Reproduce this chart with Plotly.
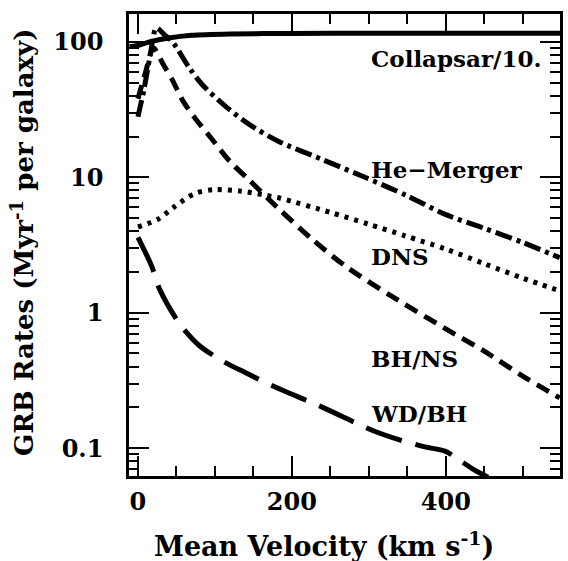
import plotly.graph_objects as go
import math

# ---- data ----
collapsar_v = [-11, 0, 15, 40, 70, 120, 200, 300, 400, 550]
collapsar_r = [92, 94, 100, 107, 112, 114.5, 115.5, 116, 116, 116]

he_v = [0, 8, 16, 24, 35, 45, 67, 84, 115, 145, 183, 240, 295, 350, 400, 450, 500, 548]
he_r = [28, 45, 80, 127, 112, 100, 64, 48, 33, 24.5, 18.4, 13.5, 10, 7.3, 5.3, 4.2, 3.3, 2.55]

dns_v = [0, 26, 48, 74, 99, 134, 164, 185, 250, 300, 347, 400, 450, 500, 548]
dns_r = [4.3, 4.9, 6.1, 7.6, 8.1, 7.9, 7.4, 7.0, 5.5, 4.5, 3.7, 2.95, 2.3, 1.8, 1.45]

bhns_v = [0, 10, 20, 33, 45, 58, 75, 95, 120, 145, 181, 226, 270, 329, 400, 450, 500, 548]
bhns_r = [38, 60, 90, 68, 52, 37, 27, 19.5, 13, 9.5, 6.0, 3.5, 2.2, 1.33, 0.76, 0.52, 0.34, 0.235]

wdbh_v = [0, 18, 28, 54, 80, 110, 140, 174, 240, 305, 340, 373, 399, 420, 437, 455]
wdbh_r = [3.6, 2.2, 1.5, 0.83, 0.57, 0.44, 0.36, 0.29, 0.2, 0.135, 0.115, 0.102, 0.095, 0.08, 0.069, 0.061]

labels = ["Collapsar/10.", "He\u2212Merger", "DNS", "BH/NS", "WD/BH"]
label_x = [300, 300, 300, 300, 300]
label_y = [76, 11.5, 2.62, 0.46, 0.18]

x_ticks = [0, 200, 400]

FONT = "DejaVu Serif"

fig = go.Figure()

series = [
    (collapsar_v, collapsar_r, "solid"),
    (he_v, he_r, "17px,5px,4px,5px"),
    (dns_v, dns_r, "4px,6px"),
    (bhns_v, bhns_r, "14px,8px"),
    (wdbh_v, wdbh_r, "38px,14px"),
]
for v, r, dash in series:
    fig.add_trace(go.Scatter(
        x=v, y=r, mode="lines",
        line=dict(color="black", width=5, dash=dash, shape="spline", smoothing=0.8),
        showlegend=False, hoverinfo="skip"))

for t, lx, ly in zip(labels, label_x, label_y):
    fig.add_annotation(x=lx, y=math.log10(ly), text="<b>%s</b>" % t, showarrow=False,
                       xanchor="left", yanchor="middle",
                       font=dict(family=FONT, size=23, color="black"))

fig.add_annotation(xref="paper", yref="paper", x=-0.2465, y=0.506,
                   text="<b>GRB Rates (Myr<sup>-1</sup> per galaxy)</b>", textangle=-90,
                   showarrow=False, xanchor="center", yanchor="middle",
                   font=dict(family=FONT, size=26, color="black"))
fig.add_annotation(xref="paper", yref="paper", x=0.452, y=-0.149,
                   text="<b>Mean Velocity (km s<sup>-1</sup>)</b>",
                   showarrow=False, xanchor="center", yanchor="middle",
                   font=dict(family=FONT, size=27, color="black"))

tickfont = dict(family=FONT, size=24, color="black", weight="bold")

fig.update_xaxes(range=[-11.6, 548.4], showline=True, linewidth=2.5, linecolor="black",
                 mirror="ticks", ticks="inside", ticklen=20, tickwidth=2, tickcolor="black",
                 tickvals=x_ticks, showgrid=False, zeroline=False,
                 tickfont=tickfont, ticklabelstandoff=2,
                 minor=dict(ticks="inside", ticklen=10, tickwidth=2, tickcolor="black",
                            dtick=50, tick0=0, showgrid=False))
fig.update_yaxes(type="log", range=[-1.206, 2.206], showline=True, linewidth=2.5,
                 linecolor="black", mirror="ticks", ticks="inside", ticklen=20, tickwidth=2,
                 tickcolor="black", dtick=1, showgrid=False, zeroline=False,
                 tickfont=tickfont, ticklabelstandoff=18,
                 minor=dict(ticks="inside", ticklen=10, tickwidth=2, tickcolor="black",
                            dtick="D1", showgrid=False))

fig.update_layout(width=568, height=561, margin=dict(l=129, r=5, t=14, b=85),
                  plot_bgcolor="white", paper_bgcolor="white")

fig.write_html("out.html", config={"displayModeBar": False},
               post_script="document.body.style.margin='0';")
